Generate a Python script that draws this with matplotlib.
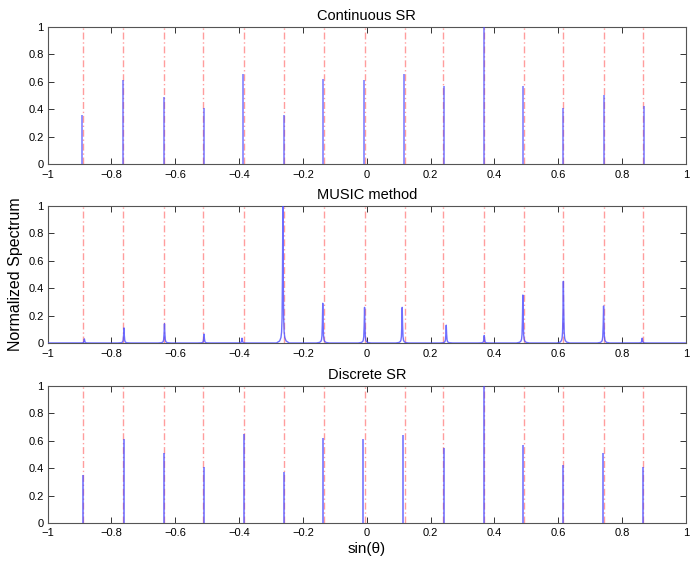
import numpy as np
import matplotlib
matplotlib.use('Agg')
import matplotlib.pyplot as plt

plt.rcParams['font.family'] = ['Liberation Sans', 'DejaVu Sans']

# true source positions (red dash-dot lines)
true_pos = [-0.890, -0.765, -0.636, -0.512, -0.385, -0.258, -0.134, -0.005,
            0.119, 0.238, 0.366, 0.494, 0.616, 0.742, 0.867]

# continuous SR estimates
csr_pos = [-0.891, -0.764, -0.635, -0.509, -0.388, -0.259, -0.136, -0.008,
           0.117, 0.241, 0.366, 0.489, 0.614, 0.742, 0.869]
csr_amp = [0.36, 0.61, 0.49, 0.41, 0.66, 0.36, 0.62, 0.615,
           0.66, 0.57, 1.0, 0.57, 0.41, 0.50, 0.42]

# MUSIC peaks
music_pos = [-0.885, -0.761, -0.634, -0.510, -0.391, -0.263, -0.138, -0.007,
             0.111, 0.249, 0.368, 0.489, 0.616, 0.742, 0.863]
music_amp = [0.03, 0.11, 0.14, 0.065, 0.035, 1.0, 0.29, 0.26,
             0.26, 0.13, 0.055, 0.35, 0.45, 0.27, 0.035]
# shape of one MUSIC peak (offset in sin(theta), relative height)
peak_off = [-0.02, -0.01, -0.006, -0.004, -0.0025, -0.0012, 0.0,
            0.0012, 0.0025, 0.004, 0.006, 0.01, 0.02]
peak_rel = [0.0, 0.015, 0.04, 0.08, 0.18, 0.5, 1.0,
            0.5, 0.18, 0.08, 0.04, 0.015, 0.0]

# discrete SR estimates
dsr_pos = [-0.889, -0.761, -0.635, -0.510, -0.386, -0.259, -0.136, -0.011,
           0.115, 0.243, 0.366, 0.489, 0.615, 0.740, 0.865]
dsr_amp = [0.35, 0.61, 0.51, 0.41, 0.65, 0.37, 0.62, 0.61,
           0.64, 0.55, 1.0, 0.57, 0.42, 0.51, 0.41]

BLUE = '#4a4aff'
RED = '#ff4d4d'
xt = [-1, -0.8, -0.6, -0.4, -0.2, 0, 0.2, 0.4, 0.6, 0.8, 1]
xtl = ['\u22121', '\u22120.8', '\u22120.6', '\u22120.4', '\u22120.2', '0',
       '0.2', '0.4', '0.6', '0.8', '1']
yt = [0, 0.2, 0.4, 0.6, 0.8, 1]
ytl = ['0', '0.2', '0.4', '0.6', '0.8', '1']

fig = plt.figure(figsize=(6.96, 5.61), dpi=100)
boxes = [[0.0685, 0.7077, 0.917, 0.2442],
         [0.0685, 0.3886, 0.917, 0.2442],
         [0.0685, 0.0677, 0.917, 0.2442]]
titles = ['Continuous SR', 'MUSIC method', 'Discrete SR']
axes = [fig.add_axes(b) for b in boxes]

for i, ax in enumerate(axes):
    for p in true_pos:
        ax.plot([p, p], [0, 1], linestyle='-.', color=RED, alpha=0.55, lw=1.0,
                dashes=(5, 2, 1, 2), zorder=2)
    if i == 0:
        ax.vlines(csr_pos, 0, csr_amp, color=BLUE, alpha=0.75, lw=1.1, zorder=3)
    elif i == 1:
        xs = [-1.0]
        ys = [0.0]
        for p, a in zip(music_pos, music_amp):
            for o, r in zip(peak_off, peak_rel):
                xs.append(p + o)
                ys.append(a * r)
        xs.append(1.0)
        ys.append(0.0)
        ax.plot(xs, ys, color=BLUE, alpha=0.8, lw=1.0, zorder=3)
    else:
        ax.vlines(dsr_pos, 0, dsr_amp, color=BLUE, alpha=0.7, lw=1.3, zorder=3)

    ax.set_xlim(-1, 1)
    ax.set_ylim(0, 1)
    ax.set_xticks(xt)
    ax.set_xticklabels(xtl)
    ax.set_yticks(yt)
    ax.set_yticklabels(ytl)
    ax.tick_params(direction='in', top=True, right=True, length=4, width=0.7,
                   labelsize=8, colors='#333333')
    ax.tick_params(axis='x', pad=4.5 if i < 2 else 3.5)
    ax.tick_params(axis='y', pad=3)
    ax.tick_params(labelcolor='black')
    for s in ax.spines.values():
        s.set_color('#555555')
        s.set_linewidth(0.8)
    ax.set_title(titles[i], fontsize=10.5, pad=5)

axes[1].set_ylabel('Normalized Spectrum', fontsize=11.5, labelpad=4)
axes[2].set_xlabel('sin(\u03b8)', fontsize=11, va='top')
axes[2].xaxis.set_label_coords(0.5, -0.14)

plt.savefig('out.png', dpi=100)
